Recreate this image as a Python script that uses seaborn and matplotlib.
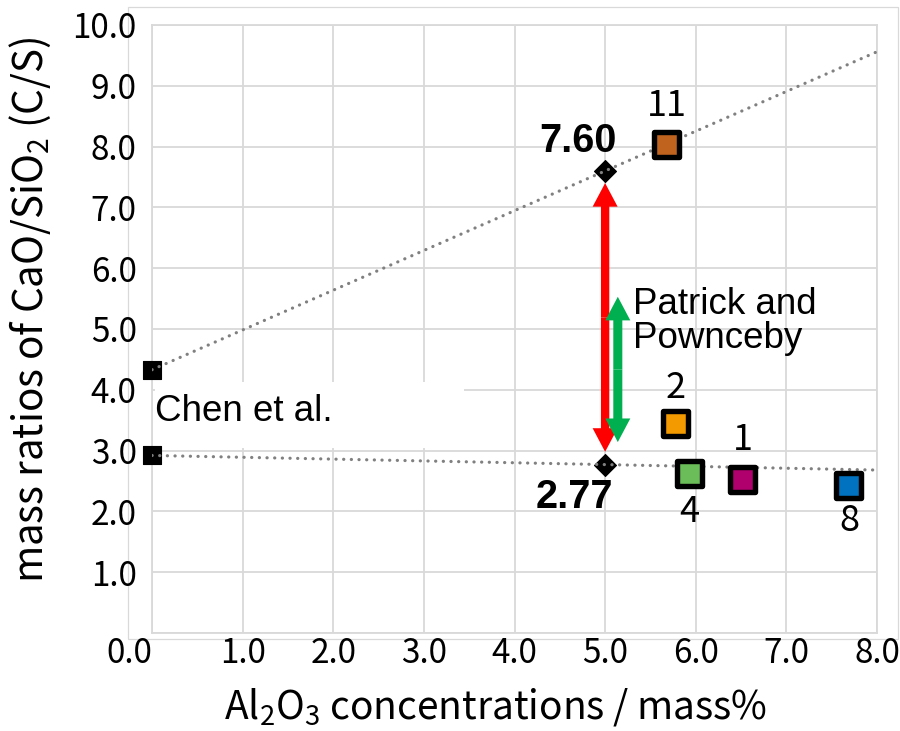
import matplotlib
matplotlib.use("Agg")
import matplotlib.pyplot as plt
import seaborn as sns
import pandas as pd
from matplotlib.patches import Rectangle

# ---------------- data ----------------
x_ticks = [0, 1, 2, 3, 4, 5, 6, 7, 8]
x_tick_labels = ["0.0", "1.0", "2.0", "3.0", "4.0", "5.0", "6.0", "7.0", "8.0"]
y_ticks = [0, 1, 2, 3, 4, 5, 6, 7, 8, 9, 10]
y_tick_labels = ["", "1.0", "2.0", "3.0", "4.0", "5.0", "6.0", "7.0", "8.0", "9.0", "10.0"]

chen_x = [0.0, 0.0]
chen_y = [4.33, 2.92]

ref_x = [5.0, 5.0]
ref_y = [7.60, 2.77]
ref_labels = ["7.60", "2.77"]

upper_line_x = [0.0, 5.0, 8.0]
upper_line_y = [4.33, 7.60, 9.56]
lower_line_x = [0.0, 5.0, 8.0]
lower_line_y = [2.92, 2.77, 2.68]

sample_labels = ["11", "2", "4", "1", "8"]
sample_x = [5.68, 5.78, 5.93, 6.52, 7.69]
sample_y = [8.04, 3.45, 2.62, 2.53, 2.43]
sample_colors = ["#C0631F", "#F39A00", "#6BBD59", "#B0006E", "#0072C0"]

red_arrow_x = 5.0
red_arrow_y = [2.98, 7.40]
green_arrow_x = 5.14
green_arrow_y = [3.14, 5.53]

# ---------------- style ----------------
sns.set_theme(style="white")
plt.rcParams["font.family"] = ["Noto Sans CJK JP", "DejaVu Sans"]
plt.rcParams["text.color"] = "black"
plt.rcParams["axes.labelcolor"] = "black"
plt.rcParams["xtick.color"] = "black"
plt.rcParams["ytick.color"] = "black"
GRID = "#D9D9D9"

fig = plt.figure(figsize=(9, 7.31), dpi=100)
ax = fig.add_axes([152 / 900, 1 - 633 / 731, 725 / 900, 608 / 731])

# outer chart frame
fig.add_artist(Rectangle((128 / 900, 1 - 639 / 731), 770 / 900, 632 / 731,
                         transform=fig.transFigure, fill=False,
                         ec=GRID, lw=0.9, zorder=0))

ax.set_xlim(0, 8)
ax.set_ylim(0, 10)
ax.set_xticks(x_ticks)
ax.set_xticklabels(x_tick_labels)
ax.set_yticks(y_ticks)
ax.set_yticklabels(y_tick_labels)
ax.tick_params(axis="both", length=0, labelsize=24, colors="black")
ax.tick_params(axis="x", pad=2)
ax.tick_params(axis="y", pad=11)
ax.get_xticklabels()[0].set_horizontalalignment("right")
ax.grid(True, color=GRID, lw=1.3)
ax.set_axisbelow(True)
for sp in ax.spines.values():
    sp.set_color(GRID)
    sp.set_linewidth(1.3)

# white box behind "Chen et al."
ax.add_patch(Rectangle((0.03, 3.05), 3.41, 1.08, facecolor="white",
                       edgecolor="none", zorder=1.5))

# black reference markers
sns.scatterplot(x=chen_x, y=chen_y, marker="s", s=150, color="black",
                edgecolor="black", linewidth=0.8, ax=ax, zorder=3,
                clip_on=False, legend=False)
sns.scatterplot(x=ref_x, y=ref_y, marker="D", s=125, color="black",
                edgecolor="black", linewidth=0.8, ax=ax, zorder=3,
                legend=False)

# dotted trend lines
line_df = pd.DataFrame({
    "x": upper_line_x + lower_line_x,
    "y": upper_line_y + lower_line_y,
    "grp": ["upper"] * len(upper_line_x) + ["lower"] * len(lower_line_x),
})
for g, sub in line_df.groupby("grp"):
    sns.lineplot(data=sub, x="x", y="y", sort=False, estimator=None,
                 color="#808080", lw=2.3, linestyle=(0, (0.05, 2.35)),
                 dash_capstyle="round", ax=ax, zorder=4)

# arrows (double headed)
def double_arrow(x, y0, y1, color, tail, head_w, head_l):
    mid = (y0 + y1) / 2
    style = f"simple,head_length={head_l},head_width={head_w},tail_width={tail}"
    for end in (y0, y1):
        ax.annotate("", xy=(x, end), xytext=(x, mid),
                    arrowprops=dict(arrowstyle=style, color=color, lw=0,
                                    shrinkA=0, shrinkB=0, mutation_scale=1),
                    zorder=5)

double_arrow(red_arrow_x, red_arrow_y[0], red_arrow_y[1], "#FF0000", 6.0, 18, 17)
double_arrow(green_arrow_x, green_arrow_y[0], green_arrow_y[1], "#00B050", 6.5, 18, 17)

# sample squares
sample_df = pd.DataFrame({"x": sample_x, "y": sample_y, "lab": sample_labels})
sns.scatterplot(data=sample_df, x="x", y="y", hue="lab",
                palette=dict(zip(sample_labels, sample_colors)),
                marker="s", s=320, edgecolor="black", linewidth=3.9,
                ax=ax, zorder=6, legend=False)

# sample number labels
label_offsets = {"11": 0.62, "2": 0.58, "1": 0.64, "4": -0.63, "8": -0.59}
for lab, x, y in zip(sample_labels, sample_x, sample_y):
    ax.text(x, y + label_offsets[lab], lab, ha="center", va="center",
            fontsize=26, color="black", zorder=7)

# reference value labels
ax.text(ref_x[0] - 0.30, ref_y[0] + 0.49, ref_labels[0], ha="center", va="center",
        fontsize=28.5, fontweight="bold", family="Liberation Sans", zorder=7)
ax.text(ref_x[1] - 0.34, ref_y[1] - 0.53, ref_labels[1], ha="center", va="center",
        fontsize=28.5, fontweight="bold", family="Liberation Sans", zorder=7)

ax.text(5.31, 5.12, "Patrick and\nPownceby", ha="left", va="center",
        fontsize=26.5, family="Liberation Sans", linespacing=0.95, zorder=7)
ax.text(0.03, 3.65, "Chen et al.", ha="left", va="center",
        fontsize=26.5, family="Liberation Sans", zorder=7)

# axis labels
ax.set_xlabel("Al$\\mathregular{_2}$O$\\mathregular{_3}$ concentrations / mass%",
              fontsize=28)
ax.set_ylabel("mass ratios of CaO/SiO$\\mathregular{_2}$ (C/S)", fontsize=29)
ax.xaxis.set_label_coords(0.474, -0.122)
ax.xaxis.label.set_verticalalignment("center")
ax.yaxis.set_label_coords(-0.168, 0.532)
ax.yaxis.label.set_verticalalignment("center")

fig.savefig("out.png", dpi=100)
